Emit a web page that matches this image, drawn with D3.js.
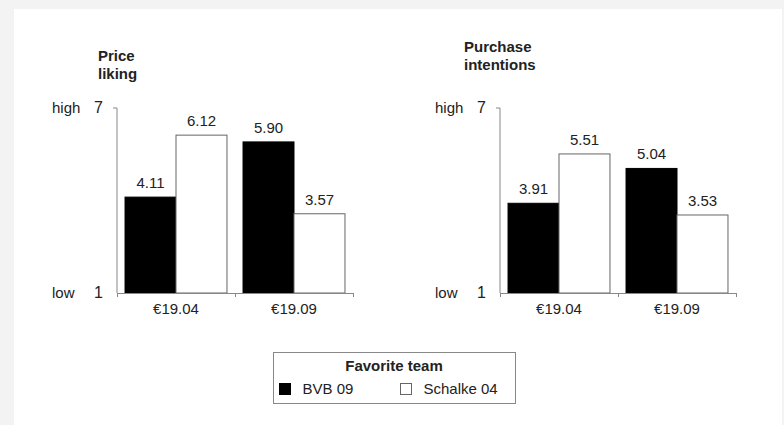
<!DOCTYPE html>
<html>
<head>
<meta charset="utf-8">
<script src="https://cdn.jsdelivr.net/npm/d3@7"></script>
<style>
  body { margin: 0; background: #f3f3f3; }
  svg { display: block; }
  text { font-family: "Liberation Sans", Arial, sans-serif; fill: #222; }
</style>
</head>
<body>
<svg id="chart" width="784" height="425"></svg>
<script>
// data
const prices = ['€19.04', '€19.09']
const teams = ['BVB 09', 'Schalke 04']
const priceLiking = [[4.11, 6.12], [5.90, 3.57]]
const purchaseIntentions = [[3.91, 5.51], [5.04, 3.53]]
const panelTitles = [['Price', 'liking'], ['Purchase', 'intentions']]

const teamFill = d3.scaleOrdinal().domain(teams).range(['#000000', '#ffffff'])

const svg = d3.select('#chart')

// white page area
svg.append('rect')
  .attr('x', 14).attr('y', 9)
  .attr('width', 768).attr('height', 416)
  .attr('fill', '#ffffff')

/**
 * Draws one bar panel.
 */
function drawPanel (values, title, x0, titleX, titleY) {
  const g = svg.append('g')
  const x = d3.scaleBand().domain(prices).range([x0, x0 + 236])
    .paddingInner(0.136).paddingOuter(0.068)
  const xi = d3.scaleBand().domain(teams).range([0, x.bandwidth()])
  const y = d3.scaleLinear().domain([1, 7]).range([293, 108])

  // bars
  prices.forEach((p, i) => {
    teams.forEach((t, j) => {
      const v = values[i][j]
      g.append('rect')
        .attr('x', x(p) + xi(t))
        .attr('y', y(v))
        .attr('width', xi.bandwidth())
        .attr('height', y(1) - y(v))
        .attr('fill', teamFill(t))
        .attr('stroke', j === 0 ? '#000' : '#666')
        .attr('stroke-width', 1)
      g.append('text')
        .attr('x', x(p) + xi(t) + xi.bandwidth() / 2)
        .attr('y', y(v) - 9)
        .attr('text-anchor', 'middle')
        .style('font-size', '15px')
        .text(v.toFixed(2))
    })
  })

  // y axis
  g.append('path')
    .attr('d', `M${x0 - 4},${y(7)}H${x0}V${y(1)}`)
    .attr('fill', 'none').attr('stroke', '#888')
  // x axis with ticks between groups
  const xa = d3.axisBottom(d3.scaleLinear().domain([0, 2]).range([x0, x0 + 236]))
    .tickValues([0, 1, 2]).tickSize(4).tickFormat('')
  const axg = g.append('g').attr('transform', `translate(0,${y(1)})`).call(xa)
  axg.selectAll('path, line').attr('stroke', '#888')

  g.selectAll('.xlab').data(prices).enter().append('text')
    .attr('x', d => x(d) + x.bandwidth() / 2)
    .attr('y', 314)
    .attr('text-anchor', 'middle')
    .style('font-size', '15px')
    .text(d => d)

  // y labels
  const ylab = [{ w: 'high', v: 7 }, { w: 'low', v: 1 }]
  ylab.forEach(d => {
    g.append('text').attr('x', x0 - 65).attr('y', y(d.v) + 5)
      .style('font-size', '15px').text(d.w)
    g.append('text').attr('x', x0 - 14).attr('y', y(d.v) + 5)
      .attr('text-anchor', 'end')
      .style('font-size', '16px').text(d.v)
  })

  // title
  title.forEach((line, k) => {
    g.append('text').attr('x', titleX).attr('y', titleY + k * 18)
      .style('font-size', '15px').style('font-weight', 'bold')
      .text(line)
  })
}

drawPanel(priceLiking, panelTitles[0], 117, 98, 61)
drawPanel(purchaseIntentions, panelTitles[1], 500, 464, 52)

// legend
const lg = svg.append('g')
lg.append('rect').attr('x', 273.5).attr('y', 352.5).attr('width', 242).attr('height', 51)
  .attr('fill', '#fff').attr('stroke', '#888')
lg.append('text').attr('x', 394).attr('y', 371).attr('text-anchor', 'middle')
  .style('font-size', '15px').style('font-weight', 'bold').text('Favorite team')
const legX = [279.5, 400.5]
teams.forEach((t, j) => {
  lg.append('rect').attr('x', legX[j]).attr('y', 383.5).attr('width', 11).attr('height', 11)
    .attr('fill', teamFill(t)).attr('stroke', j === 0 ? '#000' : '#666')
  lg.append('text').attr('x', legX[j] + 23).attr('y', 394)
    .style('font-size', '15px').text(t)
})
</script>
</body>
</html>
